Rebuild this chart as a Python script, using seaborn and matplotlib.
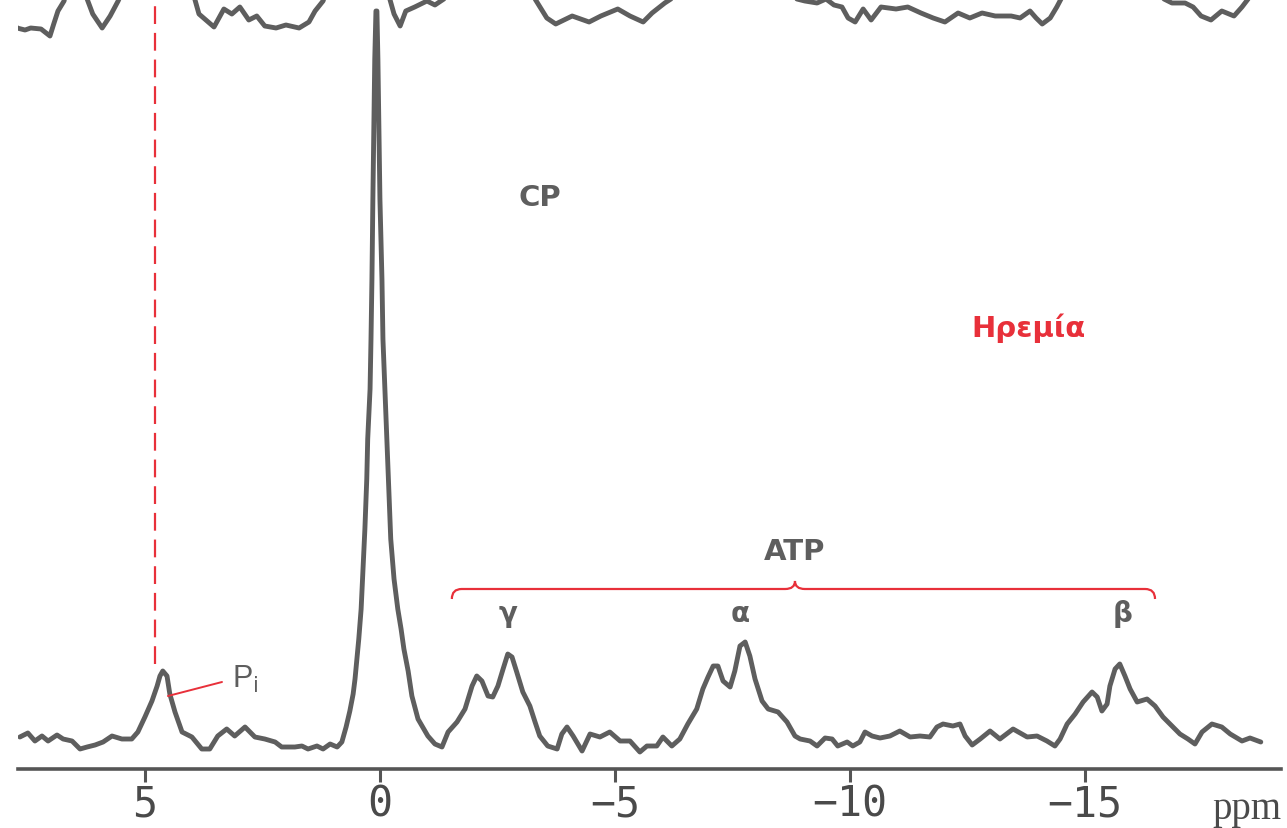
import numpy as np
import pandas as pd
import matplotlib
matplotlib.use("Agg")
import matplotlib.pyplot as plt
from matplotlib.path import Path
from matplotlib.patches import PathPatch
import seaborn as sns

# ---- data (chemical shift in ppm, intensity in arbitrary units) ----
rest_ppm = [7.66, 7.49, 7.34, 7.19, 7.06, 6.87, 6.74, 6.55, 6.38, 6.23, 6.06, 5.89, 5.70, 5.49,
            5.28, 5.15, 5.00, 4.85, 4.74, 4.68, 4.62, 4.53, 4.47, 4.36, 4.21, 4.00, 3.79, 3.62,
            3.45, 3.26, 3.09, 2.87, 2.66, 2.45, 2.23, 2.09, 1.81, 1.66, 1.53, 1.34, 1.21, 1.06,
            0.91, 0.81, 0.72, 0.64, 0.57, 0.53, 0.49, 0.45, 0.40, 0.36, 0.32, 0.28, 0.26, 0.21,
            0.19, 0.17, 0.15, 0.13, 0.11, 0.085, 0.064, 0.043, 0.021, 0.0, -0.043, -0.064, -0.106,
            -0.149, -0.19, -0.23, -0.30, -0.38, -0.45, -0.51, -0.60, -0.68, -0.81, -1.02, -1.17,
            -1.32, -1.45, -1.64, -1.81, -1.96, -2.06, -2.17, -2.30, -2.40, -2.51, -2.62, -2.72,
            -2.81, -2.91, -3.04, -3.19, -3.30, -3.40, -3.57, -3.77, -3.87, -3.98, -4.11, -4.30,
            -4.47, -4.68, -4.89, -5.11, -5.32, -5.53, -5.68, -5.89, -6.02, -6.21, -6.38, -6.55,
            -6.74, -6.87, -6.98, -7.09, -7.19, -7.30, -7.45, -7.55, -7.66, -7.77, -7.87, -7.98,
            -8.13, -8.26, -8.47, -8.66, -8.83, -8.94, -9.15, -9.30, -9.47, -9.62, -9.74, -9.94,
            -10.06, -10.21, -10.32, -10.47, -10.64, -10.85, -11.06, -11.28, -11.49, -11.70,
            -11.85, -11.98, -12.19, -12.34, -12.45, -12.60, -12.77, -12.98, -13.19, -13.47,
            -13.77, -13.98, -14.19, -14.36, -14.47, -14.62, -14.79, -14.96, -15.15, -15.26,
            -15.36, -15.47, -15.53, -15.64, -15.74, -15.85, -15.96, -16.11, -16.32, -16.49,
            -16.66, -16.85, -17.02, -17.19, -17.34, -17.49, -17.70, -17.91, -18.09, -18.34,
            -18.51, -18.74]
rest_int = [4, 8, 0, 5, 0, 6, 2, 0, -8, -6, -4, -1, 5, 2,
            2, 9, 24, 40, 55, 65, 70, 65, 47, 29, 9, 4, -8, -8,
            5, 12, 5, 14, 4, 2, -1, -6, -6, -5, -8, -5, -8, -3,
            -6, -1, 14, 30, 47, 62, 82, 102, 132, 172, 212, 262, 302, 352,
            402, 462, 542, 612, 682, 730, 730, 682, 612, 542, 462, 402, 352,
            302, 252, 202, 162, 132, 112, 92, 70, 45, 22, 5, -3,
            -6, 9, 19, 32, 55, 65, 60, 45, 44, 55, 72, 87,
            84, 69, 49, 35, 19, 5, -5, -8, 7, 14, 5, -10,
            7, 4, 9, 0, 0, -11, -5, -5, 4, -5, 2, 17,
            32, 52, 64, 75, 75, 60, 54, 70, 95, 99, 85, 62,
            40, 32, 29, 19, 5, 2, 0, -5, 3, 2, -5, -1,
            -5, -1, 9, 5, 3, 5, 10, 4, 5, 4,
            14, 17, 15, 17, 5, -4, 2, 10, 2, 12,
            4, 5, 0, -5, 2, 17, 27, 39, 49, 44,
            30, 37, 55, 72, 77, 65, 52, 39, 42, 35,
            24, 15, 7, 2, -3, 9, 17, 14, 7, 0,
            3, -1]

# upper (stacked) spectrum, mostly running off the top of the frame
upper_ppm = [7.87, 7.72, 7.55, 7.43, 7.21, 7.02, 6.94, 6.85, 6.72, 6.49, 6.23, 6.11, 5.91, 5.74,
             5.57, 4.79, 3.94, 3.85, 3.53, 3.32, 3.15, 2.98, 2.79, 2.62, 2.45, 2.21, 2.00, 1.72,
             1.51, 1.38, 1.21, 0.51, -0.21, -0.30, -0.43, -0.55, -0.74, -1.00, -1.17, -1.36,
             -2.34, -3.30, -3.55, -3.74, -4.09, -4.45, -4.70, -5.06, -5.32, -5.60, -5.79, -6.06,
             -6.19, -7.55, -8.87, -9.04, -9.30, -9.49, -9.66, -9.83, -9.96, -10.11, -10.28,
             -10.45, -10.66, -10.98, -11.23, -11.51, -11.77, -12.02, -12.30, -12.55, -12.81,
             -13.09, -13.43, -13.62, -13.83, -13.96, -14.09, -14.26, -14.40, -14.49, -15.53,
             -16.68, -16.85, -17.13, -17.30, -17.47, -17.68, -17.91, -18.17, -18.34, -18.47,
             -18.83]
upper_int = [723, 713, 711, 713, 712, 705, 717, 730, 740, 792, 742, 727, 713, 725,
             740, 822, 742, 727, 714, 732, 727, 734, 721, 725, 715, 713, 716, 713,
             719, 730, 740, 842, 742, 727, 715, 730, 734, 740, 736, 742,
             822, 742, 723, 717, 725, 719, 725, 732, 725, 719, 728, 738,
             742, 822, 742, 740, 738, 742, 736, 734, 723, 719, 732,
             721, 734, 732, 734, 728, 723, 719, 728, 723, 728,
             725, 725, 723, 730, 723, 717, 723, 734, 742, 822,
             742, 738, 738, 734, 725, 721, 730, 725, 734, 742,
             782]

tick_values = [5, 0, -5, -10, -15]
peak_labels = ["γ", "α", "β"]
peak_label_ppm = [-2.72, -7.66, -15.79]

rest = pd.DataFrame({"ppm": rest_ppm, "intensity": rest_int})
upper = pd.DataFrame({"ppm": upper_ppm, "intensity": upper_int})

# ---- figure ----
sns.set_style("white")
plt.rcParams["font.family"] = ["DejaVu Sans"]

fig = plt.figure(figsize=(12.87, 8.29), dpi=100)
ax = fig.add_axes([18 / 1287, 1 - 770 / 829, (1281 - 18) / 1287, 770 / 829])

grey = "#5e5e5e"
red = "#e8303a"

sns.lineplot(data=rest, x="ppm", y="intensity", sort=False, estimator=None,
             color=grey, linewidth=3.5, ax=ax)
sns.lineplot(data=upper, x="ppm", y="intensity", sort=False, estimator=None,
             color=grey, linewidth=3.5, ax=ax)

ax.set_xlim(7.70, -19.17)
ax.set_ylim(-28, 742)
ax.set_xlabel("")
ax.set_ylabel("")
ax.set_yticks([])
ax.set_xticks(tick_values)
ax.set_xticklabels([f"{v}".replace("-", "−") for v in tick_values],
                   fontfamily="DejaVu Sans Mono", fontsize=30, color="#4a4a4a")
ax.tick_params(axis="x", direction="out", length=9, width=2.2, color="#555555", pad=1,
               bottom=True)
sns.despine(ax=ax, left=True, top=True, right=True)
ax.spines["bottom"].set_linewidth(2.6)
ax.spines["bottom"].set_color("#555555")

# Pi marker: red dashed line and leader
ax.plot([4.79, 4.79], [77, 760], color=red, lw=1.6, ls=(0, (8, 4)), clip_on=True)
ax.plot([4.51, 3.36], [45, 59], color=red, lw=1.4)
ax.text(3.15, 63, r"P$_\mathrm{i}$", fontsize=22, color=grey, ha="left", va="center",
        family="Liberation Sans")

# labels
ax.text(-3.40, 544, "CP", fontsize=21, fontweight="bold", color=grey, ha="center", va="center")
ax.text(-13.79, 414, "Ηρεμία", fontsize=21, fontweight="bold", color=red, ha="center",
        va="center")
ax.text(-8.83, 190, "ATP", fontsize=21, fontweight="bold", color=grey, ha="center",
        va="center")
for lab, p in zip(peak_labels, peak_label_ppm):
    ax.text(p, 128, lab, fontsize=20, fontweight="bold", color=grey, ha="center",
            va="center")

# ATP brace
verts = [(-1.53, 142), (-1.53, 152), (-1.74, 152),
         (-8.62, 152), (-8.83, 152), (-8.83, 160),
         (-8.83, 152), (-9.04, 152),
         (-16.28, 152), (-16.49, 152), (-16.49, 142)]
codes = [Path.MOVETO, Path.CURVE3, Path.CURVE3,
         Path.LINETO, Path.CURVE3, Path.CURVE3,
         Path.CURVE3, Path.CURVE3,
         Path.LINETO, Path.CURVE3, Path.CURVE3]
ax.add_patch(PathPatch(Path(verts, codes), facecolor="none", edgecolor=red, lw=1.6))

fig.text(1212 / 1287, 1 - 810 / 829, "ppm", fontsize=28, family="Liberation Serif",
         color="#4a4a4a", ha="left", va="center")

fig.savefig("out.png", dpi=100)
